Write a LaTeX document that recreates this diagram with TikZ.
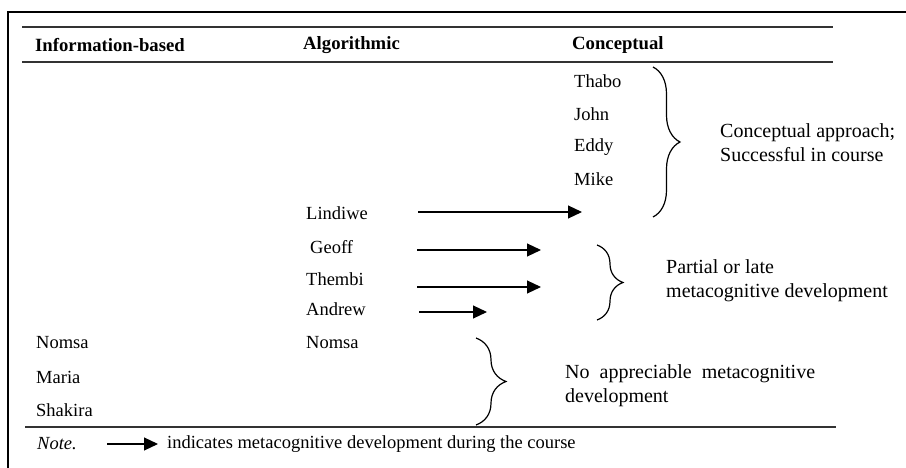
\documentclass[tikz,border=0pt]{standalone}
\usepackage{fontspec}
\setmainfont{Liberation Serif}
\usetikzlibrary{arrows.meta,decorations.pathreplacing}
\begin{document}
\begin{tikzpicture}[x=1pt,y=-1pt,
  txt/.style={anchor=west,inner sep=0pt,font=\fontsize{18.5}{20}\selectfont},
  lbl/.style={anchor=west,inner sep=0pt,font=\fontsize{20}{24}\selectfont,align=left},
  hdr/.style={txt,font=\fontsize{18.7}{20}\selectfont\bfseries},
  rule/.style={line width=1.8pt,black!80},
  devarrow/.style={line width=1.1pt,-{Triangle[length=14pt,width=13pt]}},
  brc/.style={decorate,decoration={brace,amplitude=#1},line width=1.2pt}]
\useasboundingbox (0,0) rectangle (906,468);
% frame
\draw[line width=2.2pt] (8,480) -- (8,12) -- (910,12);
% rules
\draw[rule] (22,27) -- (833,27);
\draw[rule] (22,62) -- (833,62);
\draw[rule] (25,427) -- (836,427);
% headers
\node[hdr] (h1) at (35,45) {Information-based};
\node[hdr] (h2) at (303,45) {Algorithmic};
\node[hdr] (h3) at (572,45) {Conceptual};
% conceptual column
\node[txt] (thabo) at (574,81) {Thabo};
\node[txt] (john) at (574,114) {John};
\node[txt] (eddy) at (574,147) {Eddy};
\node[txt] (mike) at (574,179) {Mike};
% algorithmic column
\node[txt] (lindiwe) at (306,213) {Lindiwe};
\node[txt] (geoff) at (310,247) {Geoff};
\node[txt] (thembi) at (306,279) {Thembi};
\node[txt] (andrew) at (306,309) {Andrew};
\node[txt] (nomsa2) at (306,343) {Nomsa};
% information-based column
\node[txt] (nomsa1) at (36,343) {Nomsa};
\node[txt] (maria) at (36,377) {Maria};
\node[txt] (shakira) at (36,410) {Shakira};
% arrows
\coordinate (l1) at (418,212); \coordinate (l2) at (582,212);
\coordinate (g1) at (417,250); \coordinate (g2) at (541,250);
\coordinate (t1) at (417,287); \coordinate (t2) at (541,287);
\coordinate (a1) at (419,312); \coordinate (a2) at (487,312);
\draw[devarrow] (l1) -- (l2);
\draw[devarrow] (g1) -- (g2);
\draw[devarrow] (t1) -- (t2);
\draw[devarrow] (a1) -- (a2);
% braces
\coordinate (b1t) at (653,67); \coordinate (b1b) at (653,217);
\coordinate (b2t) at (597,245); \coordinate (b2b) at (597,320);
\coordinate (b3t) at (476,338); \coordinate (b3b) at (476,425);
\draw[brc=27pt] (b1t) -- (b1b);
\draw[brc=26pt] (b2t) -- (b2b);
\draw[brc=30pt] (b3t) -- (b3b);
% brace labels
\node[lbl] (lab1) at (720,143) {Conceptual approach;\\Successful in course};
\node[lbl] (lab2) at (666,281) {Partial or late\\metacognitive development};
\node[lbl] (lab3) at (565,386) {No\hspace{10pt}appreciable\hspace{10pt}metacognitive\\development};
% note
\node[txt,font=\fontsize{18.5}{20}\selectfont\itshape] (note) at (37,444) {Note.};
\coordinate (n1) at (107,444); \coordinate (n2) at (158,444);
\draw[devarrow] (n1) -- (n2);
\node[txt] (notetxt) at (167,444) {indicates metacognitive development during the course};
\end{tikzpicture}
\end{document}
